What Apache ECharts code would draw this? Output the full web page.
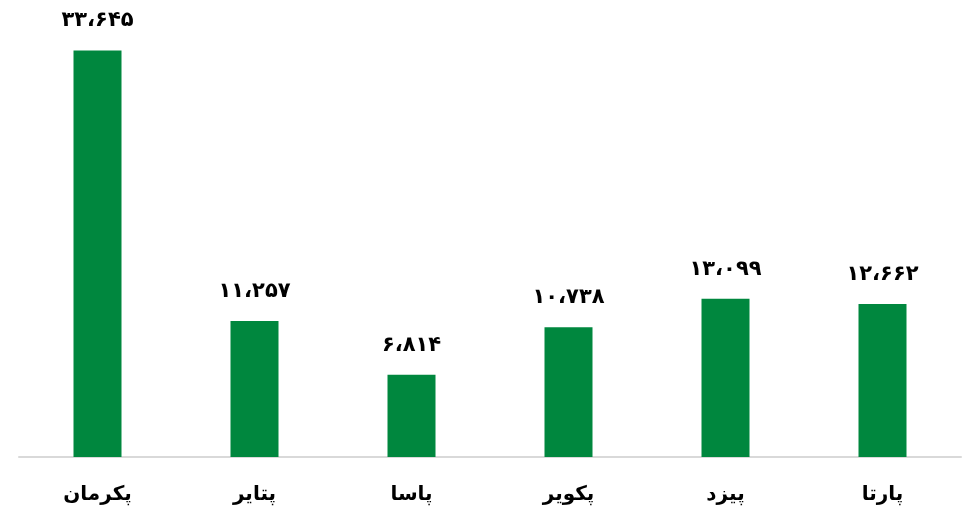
<!doctype html>
<html lang="fa">
<head>
    <meta charset="utf-8">
    <title>chart</title>
    <script src="https://cdn.jsdelivr.net/npm/echarts@6/dist/echarts.min.js"></script>
    <style>
        html, body { margin: 0; padding: 0; background: #fff; }
        #main { width: 968px; height: 516px; }
    </style>
</head>
<body>
<div id="main"></div>
<script>
    // دسته‌ها و مقادیر
    const categories = ['پکرمان', 'پتایر', 'پاسا', 'پکویر', 'پیزد', 'پارتا'];
    const values = [33645, 11257, 6814, 10738, 13099, 12662];

    // تبدیل عدد به رقم فارسی با جداکننده
    const toPersian = (n) => {
        const digits = '۰۱۲۳۴۵۶۷۸۹';
        return n.toLocaleString('en-US').replace(/,/g, '،').replace(/\d/g, d => digits[+d]);
    };

    const myChart = echarts.init(document.getElementById('main'));
    const option = {
        animation: false,
        grid: { left: 19, right: 7, top: 34, bottom: 59, containLabel: false },
        xAxis: {
            type: 'category',
            data: categories,
            axisLine: { lineStyle: { color: '#d9d9d9', width: 2 } },
            axisTick: { show: false },
            axisLabel: {
                margin: 28,
                color: '#000',
                fontSize: 20,
                fontWeight: 'bold',
                fontFamily: 'DejaVu Sans'
            }
        },
        yAxis: {
            type: 'value',
            min: 0,
            max: 35000,
            show: false,
            splitLine: { show: false }
        },
        series: [{
            type: 'bar',
            data: values,
            barWidth: 48,
            itemStyle: { color: '#00873e' },
            label: {
                show: true,
                position: 'top',
                distance: 19,
                color: '#000',
                fontSize: 21,
                fontWeight: 'bold',
                fontFamily: 'DejaVu Sans',
                formatter: (p) => toPersian(p.value)
            }
        }]
    };
    myChart.setOption(option);
</script>
</body>
</html>
